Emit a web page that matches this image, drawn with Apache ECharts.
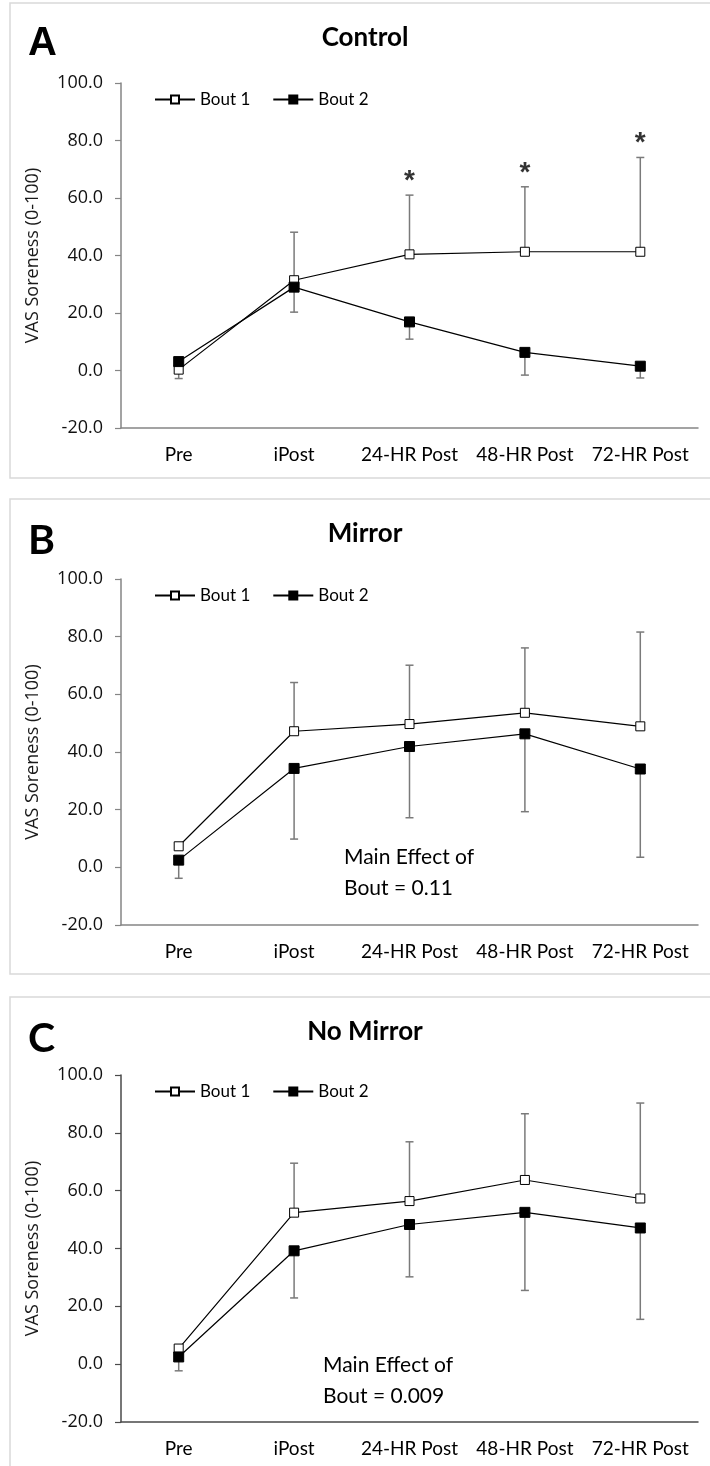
<!DOCTYPE html>
<html>
<head>
<meta charset="utf-8">
<style>
  html, body { margin: 0; padding: 0; background: #ffffff; }
  #chart { width: 710px; height: 1466px; }
</style>
<script src="https://cdn.jsdelivr.net/npm/echarts@6/dist/echarts.min.js"></script>
</head>
<body>
<div id="chart"></div>
<script>
// Time points of the soreness measurements
const timepoints = ['Pre', 'iPost', '24-HR Post', '48-HR Post', '72-HR Post'];
const seriesNames = ['Bout 1', 'Bout 2'];

// A: Control
const controlBout1 = [0.3, 31.4, 40.4, 41.3, 41.3];
const controlBout1SD = [2.5, 16.7, 20.6, 22.6, 32.8];
const controlBout2 = [3.1, 29.0, 16.9, 6.3, 1.5];
const controlBout2SD = [5.9, 8.7, 6.0, 7.9, 4.1];
const controlSignificant = [false, false, true, true, true];

// B: Mirror
const mirrorBout1 = [7.3, 47.2, 49.7, 53.6, 48.9];
const mirrorBout1SD = [0, 16.9, 20.4, 22.5, 32.7];
const mirrorBout2 = [2.5, 34.3, 41.9, 46.3, 34.1];
const mirrorBout2SD = [6.3, 24.5, 24.7, 27.0, 30.6];

// C: No Mirror
const noMirrorBout1 = [5.4, 52.4, 56.4, 63.7, 57.3];
const noMirrorBout1SD = [0, 17.1, 20.5, 22.9, 33.0];
const noMirrorBout2 = [2.5, 39.2, 48.3, 52.5, 47.1];
const noMirrorBout2SD = [4.8, 16.3, 18.1, 27.0, 31.6];

const panels = [
  { letter: 'A', title: 'Control', b1: controlBout1, b1sd: controlBout1SD, b2: controlBout2, b2sd: controlBout2SD,
    sig: controlSignificant, note: null, box: 3, boxH: 475, gridTop: 83, gridH: 345, axisColor: '#858585' },
  { letter: 'B', title: 'Mirror', b1: mirrorBout1, b1sd: mirrorBout1SD, b2: mirrorBout2, b2sd: mirrorBout2SD,
    sig: null, note: { lines: ['Main Effect of', 'Bout = 0.11'], x: 344, y: 857 }, box: 499, boxH: 475, gridTop: 579, gridH: 346, axisColor: '#858585' },
  { letter: 'C', title: 'No Mirror', b1: noMirrorBout1, b1sd: noMirrorBout1SD, b2: noMirrorBout2, b2sd: noMirrorBout2SD,
    sig: null, note: { lines: ['Main Effect of', 'Bout = 0.009'], x: 323, y: 1365 }, box: 997, boxH: 480, gridTop: 1075, gridH: 347, axisColor: '#4a4a4a' }
];

const calibriLike = 'Lato, "Open Sans", sans-serif';
const segoeLike = '"Open Sans", "Noto Sans", sans-serif';

const grid = [], xAxis = [], yAxis = [], series = [], legend = [], graphic = [];

// Vertical error bar (one direction) with a short cap at its end
function errorBarRenderer(params, api) {
  const p0 = api.coord([api.value(0), api.value(1)]);
  const p1 = api.coord([api.value(0), api.value(2)]);
  const capHalf = 4;
  const style = { stroke: '#7a7a7a', lineWidth: 1.5 };
  return {
    type: 'group',
    children: [
      { type: 'line', shape: { x1: p0[0], y1: p0[1], x2: p1[0], y2: p1[1] }, style: style },
      { type: 'line', shape: { x1: p1[0] - capHalf, y1: p1[1], x2: p1[0] + capHalf, y2: p1[1] }, style: style }
    ]
  };
}

function barData(means, sds, dir) {
  const out = [];
  means.forEach((m, i) => {
    if (sds[i] > 0) out.push([i, m, m + dir * sds[i]]);
  });
  return out;
}

panels.forEach((p, i) => {
  // panel frame
  graphic.push({
    type: 'rect', silent: true, z: -10,
    shape: { x: 10, y: p.box, width: 720, height: p.boxH },
    style: { fill: '#ffffff', stroke: '#d9d9d9', lineWidth: 1.5 }
  });
  // panel letter
  graphic.push({
    type: 'text', left: 28, top: p.box + 21,
    style: { text: p.letter, font: i === 0 ? 'bold 40px "Liberation Sans", Arial, sans-serif' : 'bold 41px ' + calibriLike, fill: '#000' }
  });
  // panel title
  graphic.push({
    type: 'text', x: 365, y: p.box + 35,
    style: { text: p.title, font: 'bold 26px ' + calibriLike, fill: '#000', align: 'center', verticalAlign: 'middle' }
  });
  if (p.note) {
    p.note.lines.forEach((t, k) => {
      graphic.push({
        type: 'text', x: p.note.x, y: p.note.y + k * 31,
        style: { text: t, font: '21px ' + calibriLike, fill: '#000', verticalAlign: 'middle' }
      });
    });
  }

  grid.push({ left: 121, width: 577, top: p.gridTop, height: p.gridH });

  xAxis.push({
    type: 'category', gridIndex: i, data: timepoints, boundaryGap: true,
    axisLine: { onZero: false, lineStyle: { color: p.axisColor, width: 1.5 } },
    axisTick: { show: false },
    axisLabel: { interval: 0, hideOverlap: false, fontFamily: calibriLike, fontSize: 19, color: '#000', margin: 17 },
    splitLine: { show: false }
  });

  yAxis.push({
    type: 'value', gridIndex: i, min: -20, max: 100, interval: 20,
    name: 'VAS Soreness (0-100)', nameLocation: 'middle', nameGap: 79,
    nameTextStyle: { fontFamily: segoeLike, fontSize: 18, color: '#1a1a1a' },
    axisLine: { show: true, lineStyle: { color: p.axisColor, width: 1.5 } },
    axisTick: { show: true, inside: false, length: 6, lineStyle: { color: p.axisColor, width: 1.2 } },
    axisLabel: { formatter: v => v.toFixed(1), fontFamily: segoeLike, fontSize: 18, color: '#111', margin: 18 },
    splitLine: { show: false }
  });

  series.push({
    type: 'custom', name: 'err1', xAxisIndex: i, yAxisIndex: i, z: 1,
    renderItem: errorBarRenderer, data: barData(p.b1, p.b1sd, 1), silent: true
  });
  series.push({
    type: 'custom', name: 'err2', xAxisIndex: i, yAxisIndex: i, z: 1,
    renderItem: errorBarRenderer, data: barData(p.b2, p.b2sd, -1), silent: true
  });
  series.push({
    type: 'line', name: seriesNames[0], xAxisIndex: i, yAxisIndex: i, z: 3,
    data: p.b1, symbol: 'rect', symbolSize: 9, showAllSymbol: true,
    lineStyle: { color: '#000', width: 1.2 },
    itemStyle: { color: '#ffffff', borderColor: '#000', borderWidth: 1 },
    emphasis: { disabled: true }, animation: false
  });
  series.push({
    type: 'line', name: seriesNames[1], xAxisIndex: i, yAxisIndex: i, z: 4,
    data: p.b2, symbol: 'rect', symbolSize: 10, showAllSymbol: true,
    lineStyle: { color: '#000', width: 1.2 },
    itemStyle: { color: '#000', borderColor: '#000', borderWidth: 1 },
    emphasis: { disabled: true }, animation: false
  });
  if (p.sig) {
    const marks = [];
    p.sig.forEach((s, k) => { if (s) marks.push([k, p.b1[k] + p.b1sd[k]]); });
    series.push({
      type: 'scatter', name: 'sig', xAxisIndex: i, yAxisIndex: i, z: 5,
      data: marks, symbolSize: 0, silent: true,
      label: { show: true, position: 'top', distance: 0, formatter: '*',
               fontFamily: '"Liberation Sans", Arial, sans-serif', fontWeight: 'bold', fontSize: 28, color: '#000' }
    });
  }

  legend.push({
    data: seriesNames, left: 149, top: p.gridTop + 3, orient: 'horizontal',
    itemWidth: 40, itemHeight: 10, itemGap: 22, selectedMode: false,
    textStyle: { fontFamily: calibriLike, fontSize: 17, color: '#000' }
  });
});

const chart = echarts.init(document.getElementById('chart'), null, { renderer: 'canvas' });
chart.setOption({
  animation: false,
  backgroundColor: '#ffffff',
  grid, xAxis, yAxis, series, legend, graphic,
  tooltip: { show: false }
});
</script>
</body>
</html>
